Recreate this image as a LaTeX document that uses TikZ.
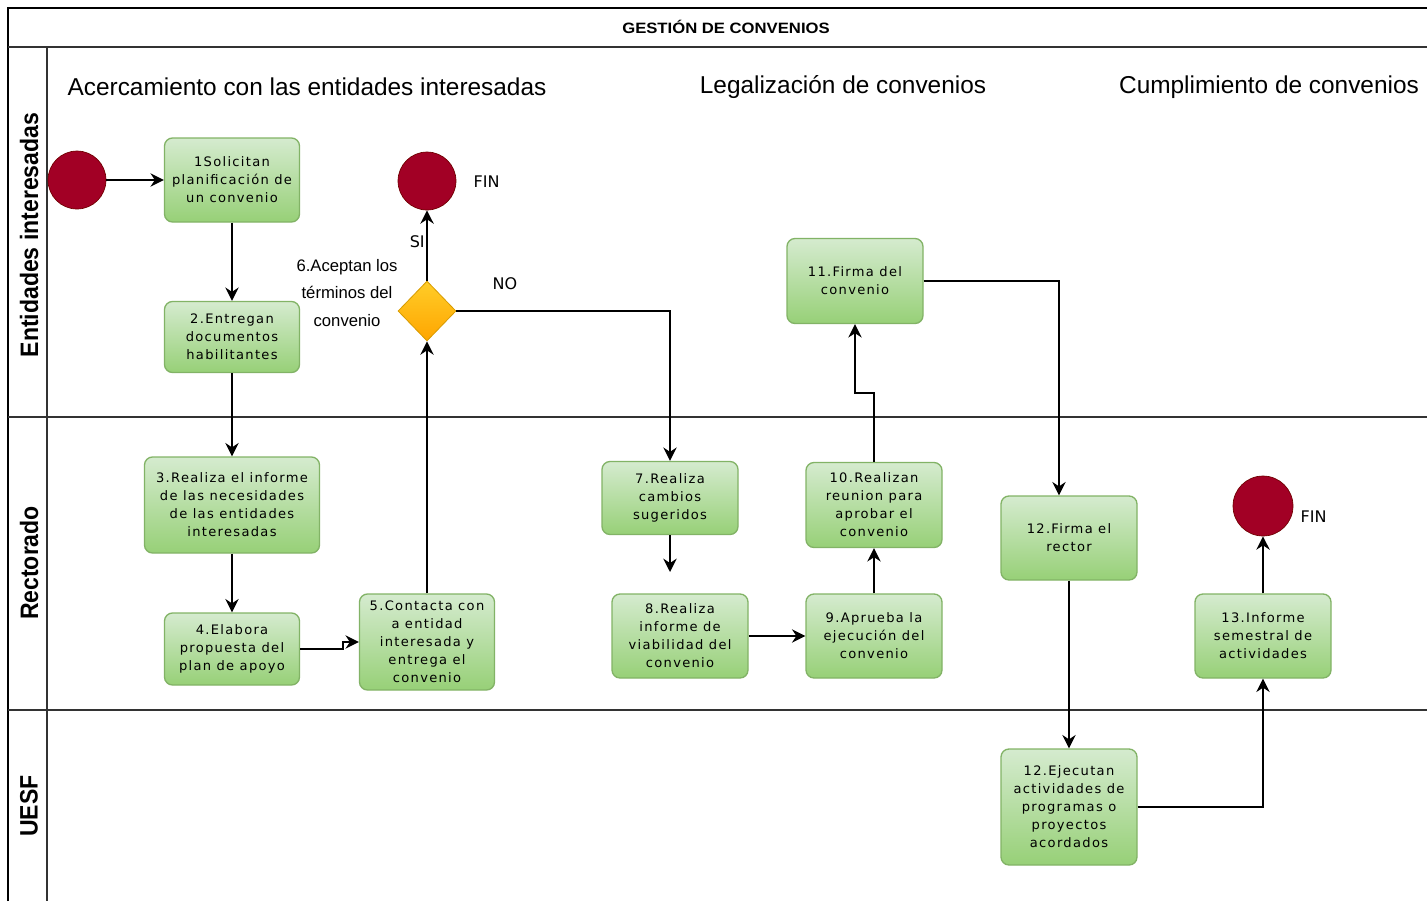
\documentclass[tikz,border=0pt]{standalone}
\usepackage{fontspec}
\setmainfont{Liberation Sans}
\newfontfamily\boxfont[LetterSpace=10]{DejaVu Sans}
\newfontfamily\lblfont{DejaVu Sans}
\usetikzlibrary{arrows.meta,shapes.geometric}
\definecolor{endred}{HTML}{A20025}
\definecolor{endstroke}{HTML}{6F0000}
\definecolor{boxtop}{HTML}{D5EBCF}
\definecolor{boxbot}{HTML}{97D077}
\definecolor{boxline}{HTML}{82B366}
\definecolor{dectop}{HTML}{FFCD28}
\definecolor{decbot}{HTML}{FFA500}
\definecolor{decline}{HTML}{D79B00}
\definecolor{laneline}{HTML}{333333}
\tikzset{
  proc/.style={draw=boxline, line width=1pt, rounded corners=6pt, top color=boxtop, bottom color=boxbot,
    align=center, inner sep=2pt, font=\boxfont\fontsize{9.8}{13.5}\selectfont},
  sz/.style 2 args={minimum width={#1*0.75pt}, minimum height={#2*0.75pt}},
  endc/.style={circle, fill=endred, draw=endstroke, line width=0.5pt, minimum size=43.5pt, inner sep=0pt},
  decis/.style={diamond, draw=decline, line width=0.6pt, top color=dectop, bottom color=decbot,
    minimum width=43.5pt, minimum height=45pt, inner sep=0pt},
  flow/.style={draw=black, line width=1.5pt, -{Stealth[length=10pt,width=10pt]}},
  lane/.style={draw=laneline, line width=1.5pt},
  lanelabel/.style={rotate=90, font=\bfseries\fontsize{18}{20}\selectfont},
  phase/.style={font=\fontsize{18.3}{20}\selectfont},
  lbl/.style={font=\lblfont\fontsize{12}{14}\selectfont},
}
\begin{document}
\begin{tikzpicture}[x=0.75pt,y=-0.75pt]
\useasboundingbox (0,0) rectangle (1427,901);
% frame and lanes
\draw[line width=1.5pt] (8,901) -- (8,8) -- (1427,8);
\draw[lane] (8,47) -- (1427,47);
\draw[lane] (47,47) -- (47,901);
\draw[lane] (8,417) -- (1427,417);
\draw[lane] (8,710) -- (1427,710);
\node[font=\bfseries\fontsize{12.5}{14}\selectfont] (title) at (726,27) {\scalebox{1}[0.9]{GESTIÓN DE CONVENIOS}};
\node[lanelabel] (l1) at (29,235) {\scalebox{0.96}[1.05]{Entidades interesadas}};
\node[lanelabel] (l2) at (29,563) {\scalebox{0.96}[1.05]{Rectorado}};
\node[lanelabel] (l3) at (29,806) {\scalebox{0.96}[1.05]{UESF}};
\node[phase] (p1) at (307,87) {Acercamiento con las entidades interesadas};
\node[phase] (p2) at (843,87) {Legalización de convenios};
\node[phase] (p3) at (1269,87) {Cumplimiento de convenios};
% nodes
\node[endc] (start) at (77,180) {};
\node[proc, sz={135}{84}] (b1) at (232,180) {1Solicitan\\planificación de\\un convenio};
\node[proc, sz={135}{71}] (b2) at (232,337) {2.Entregan\\documentos\\habilitantes};
\node[endc] (fin1) at (427,181) {};
\node[lbl, anchor=west] (fin1l) at (469,182) {FIN};
\node[decis] (dec) at (427,311) {};
\node[font=\fontsize{12.5}{20.5}\selectfont, align=center] (declbl) at (347,293) {6.Aceptan los\\términos del\\convenio};
\node[proc, sz={175}{96}] (b3) at (232,505) {3.Realiza el informe\\de las necesidades\\de las entidades\\interesadas};
\node[proc, sz={135}{72}] (b4) at (232,649) {4.Elabora\\propuesta del\\plan de apoyo};
\node[proc, sz={135}{96}] (b5) at (427,642) {5.Contacta con\\a entidad\\interesada y\\entrega el\\convenio};
\node[proc, sz={136}{73}] (b7) at (670,498) {7.Realiza\\cambios\\sugeridos};
\coordinate (c78) at (670,572);
\node[proc, sz={136}{84}] (b8) at (680,636) {8.Realiza\\informe de\\viabilidad del\\convenio};
\node[proc, sz={136}{84}] (b9) at (874,636) {9.Aprueba la\\ejecución del\\convenio};
\node[proc, sz={136}{85}] (b10) at (874,505) {10.Realizan\\reunion para\\aprobar el\\convenio};
\node[proc, sz={136}{85}] (b11) at (855,281) {11.Firma del\\convenio};
\node[proc, sz={136}{84}] (b12) at (1069,538) {12.Firma el\\rector};
\node[proc, sz={136}{116}] (b12b) at (1069,807) {12.Ejecutan\\actividades de\\programas o\\proyectos\\acordados};
\node[proc, sz={136}{84}] (b13) at (1263,636) {13.Informe\\semestral de\\actividades};
\node[endc, minimum size=45pt] (fin3) at (1263,506) {};
\node[lbl, anchor=west] (fin3l) at (1296,517) {FIN};
% connectors
\draw[flow] (start) -- (b1);
\draw[flow] (b1) -- (b2);
\draw[flow] (b2) -- (b3);
\draw[flow] (b3) -- (b4);
\draw[flow] (b4.east) -- ++(43,0) |- (b5.west);
\draw[flow] (b5) -- (dec);
\draw[flow] (dec) -- node[lbl, pos=0.55, left, inner sep=1pt] (si) {SI} (fin1);
\draw[flow] (dec.east) -| (b7.north);
\node[lbl] (no) at (505,284) {NO};
\draw[flow] (b7) -- (c78);
\draw[flow] (b8) -- (b9);
\draw[flow] (b9) -- (b10);
\draw[flow] (b10.north) -- ++(0,-69) -| (b11.south);
\draw[flow] (b11.east) -| ([xshift=-7.5pt]b12.north);
\draw[flow] (b12) -- (b12b);
\draw[flow] (b12b.east) -| (b13.south);
\draw[flow] (b13) -- (fin3);
\end{tikzpicture}
\end{document}
